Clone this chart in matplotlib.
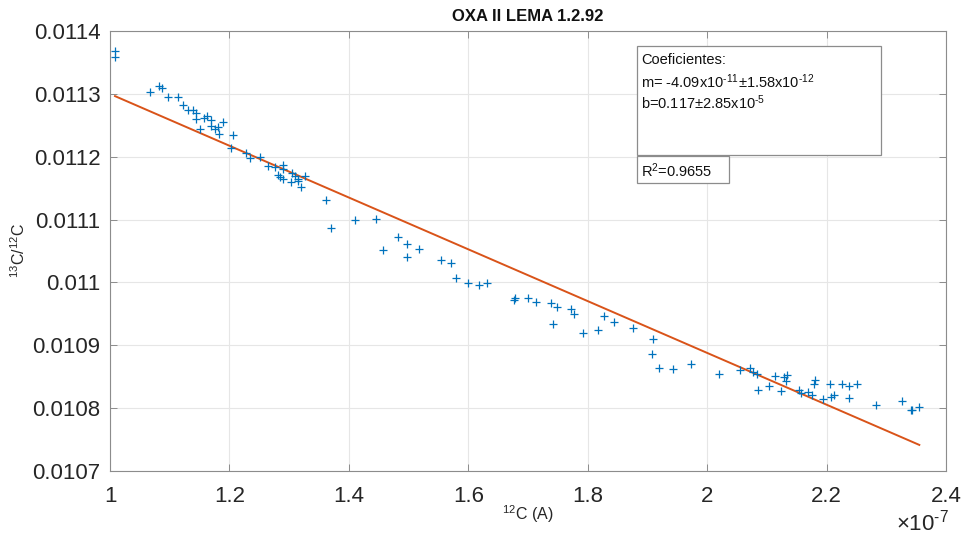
import matplotlib
matplotlib.use("Agg")
import matplotlib.pyplot as plt
from matplotlib.ticker import FixedLocator, FuncFormatter
from matplotlib.patches import Rectangle

plt.rcParams['font.family'] = ['Liberation Sans', 'DejaVu Sans']
plt.rcParams['mathtext.fontset'] = 'custom'
plt.rcParams['mathtext.rm'] = 'Liberation Sans'
plt.rcParams['mathtext.it'] = 'Liberation Sans:italic'
plt.rcParams['mathtext.bf'] = 'Liberation Sans:bold'

# ---- data ----
x_scale = 1e-7  # x values below are in units of 1e-7 A
c12_current = [
    1.0084, 1.0084, 1.0670, 1.0826, 1.0866, 1.0976, 1.1134, 1.1228, 1.1311, 1.1395,
    1.1440, 1.1440, 1.1574, 1.1629, 1.1691, 1.1691, 1.1758, 1.1814, 1.1825, 1.1887,
    1.1507, 1.2065, 1.2026, 1.2272, 1.2345, 1.2512, 1.2651, 1.2763, 1.2902, 1.2892,
    1.2808, 1.2847, 1.2902, 1.3043, 1.3098, 1.3153, 1.3153, 1.3026, 1.3199, 1.3266,
    1.3617, 1.3701, 1.4103, 1.4455, 1.4567, 1.4818, 1.4979, 1.4979, 1.5180, 1.5543,
    1.5706, 1.5794, 1.6000, 1.6179, 1.6308, 1.6771, 1.6782, 1.7005, 1.7134, 1.7380,
    1.7481, 1.7424, 1.7720, 1.7776, 1.7916, 1.8167, 1.8278, 1.8440, 1.8753, 1.9098,
    1.9070, 1.9194, 1.9432, 1.9730, 2.0204, 2.0550, 2.0718, 2.0773, 2.0840, 2.0847,
    2.1041, 2.1136, 2.1231, 2.1291, 2.1331, 2.1320, 2.1543, 2.1571, 2.1693, 2.1760,
    2.1806, 2.1794, 2.1934, 2.2057, 2.2068, 2.2129, 2.2263, 2.2375, 2.2380, 2.2514,
    2.2822, 2.3263, 2.3414, 2.3435, 2.3553,
]
ratio_13_12 = [
    0.0113677, 0.0113581, 0.0113033, 0.0113128, 0.0113087, 0.0112943, 0.0112943, 0.0112820, 0.0112746, 0.0112746,
    0.0112688, 0.0112597, 0.0112613, 0.0112640, 0.0112586, 0.0112490, 0.0112438, 0.0112465, 0.0112358, 0.0112545,
    0.0112438, 0.0112347, 0.0112146, 0.0112066, 0.0111986, 0.0111996, 0.0111853, 0.0111837, 0.0111864, 0.0111800,
    0.0111709, 0.0111677, 0.0111640, 0.0111736, 0.0111693, 0.0111652, 0.0111613, 0.0111597, 0.0111524, 0.0111693,
    0.0111306, 0.0110870, 0.0110991, 0.0111003, 0.0110508, 0.0110727, 0.0110615, 0.0110408, 0.0110535, 0.0110349,
    0.0110312, 0.0110067, 0.0109993, 0.0109955, 0.0109993, 0.0109716, 0.0109754, 0.0109754, 0.0109684, 0.0109674,
    0.0109610, 0.0109344, 0.0109583, 0.0109504, 0.0109196, 0.0109237, 0.0109461, 0.0109371, 0.0109269, 0.0109105,
    0.0108855, 0.0108642, 0.0108627, 0.0108706, 0.0108547, 0.0108599, 0.0108638, 0.0108568, 0.0108542, 0.0108292,
    0.0108355, 0.0108504, 0.0108276, 0.0108488, 0.0108520, 0.0108435, 0.0108292, 0.0108239, 0.0108249, 0.0108212,
    0.0108440, 0.0108387, 0.0108153, 0.0108383, 0.0108185, 0.0108212, 0.0108387, 0.0108355, 0.0108159, 0.0108383,
    0.0108048, 0.0108116, 0.0107973, 0.0107968, 0.0108016,
]
fit_x = [1.0084, 2.3553]
fit_y = [0.0112964, 0.0107415]

x_ticks = [1.0, 1.2, 1.4, 1.6, 1.8, 2.0, 2.2, 2.4]
y_ticks = [0.0107, 0.0108, 0.0109, 0.0110, 0.0111, 0.0112, 0.0113, 0.0114]
y_tick_labels = ['0.0107', '0.0108', '0.0109', '0.011', '0.0111', '0.0112', '0.0113', '0.0114']

title = 'OXA II LEMA 1.2.92'
coef_lines = [
    'Coeficientes:',
    r'm= -4.09x10$^{\text{-}11}$$\pm$1.58x10$^{\text{-}12}$',
    r'b=0.117$\pm$2.85x10$^{\text{-}5}$',
]
r2_text = r'R$^{2}$=0.9655'

# ---- figure ----
fig = plt.figure(figsize=(9.61, 5.35), dpi=100)
ax = fig.add_axes([110 / 961, 1 - 471 / 535, 836 / 961, 440 / 535])

blue = (0.0, 0.447, 0.741)
orange = (0.85, 0.325, 0.098)

xs = [v * x_scale for v in c12_current]
ax.plot(xs, ratio_13_12, linestyle='none', marker='+', color=blue,
        markersize=6, markeredgewidth=0.9, zorder=3)
ax.plot([v * x_scale for v in fit_x], fit_y, color=orange, linewidth=1.4, zorder=2)

ax.set_xlim(x_ticks[0] * x_scale, x_ticks[-1] * x_scale)
ax.set_ylim(y_ticks[0], y_ticks[-1])
ax.xaxis.set_major_locator(FixedLocator([v * x_scale for v in x_ticks]))
ax.xaxis.set_major_formatter(FuncFormatter(lambda v, p: f'{v / x_scale:g}'))
ax.yaxis.set_major_locator(FixedLocator(y_ticks))
ax.set_yticklabels(y_tick_labels)

ax.grid(True, color='#e6e6e6', linewidth=0.8)
ax.set_axisbelow(True)
for s in ax.spines.values():
    s.set_color('#8c8c8c')
    s.set_linewidth(0.8)
ax.tick_params(direction='in', length=5, width=0.7, color='#8c8c8c',
               top=True, right=True, labelsize=16, labelcolor='#262626')
ax.tick_params(axis='x', pad=11)
ax.tick_params(axis='y', pad=7)

ax.set_title(title, fontsize=12, fontweight='bold', pad=7, color='#111111')
ax.set_xlabel(r'$^{12}$C (A)', fontsize=11.5, color='#262626')
ax.xaxis.set_label_coords(0.5, (471 - 503) / 440)
ax.set_ylabel(r'$^{13}$C/$^{12}$C', fontsize=11.5, color='#262626')
ax.yaxis.set_label_coords((28 - 110) / 836, 0.5)
fig.text(949 / 961, 1 - 523 / 535, r'$\times$10$^{\text{-}7}$', fontsize=16,
         color='#262626', ha='right', va='center')


def px_to_fig(x, y):
    return x / 961, 1 - y / 535


x0, y0 = px_to_fig(637, 155)
fig.patches.append(Rectangle((x0, y0), (881 - 637) / 961, (155 - 46) / 535,
                             transform=fig.transFigure, facecolor='white',
                             edgecolor='#8c8c8c', linewidth=0.9, zorder=5))
x1, y1 = px_to_fig(637, 183)
fig.patches.append(Rectangle((x1, y1), (729 - 637) / 961, (183 - 156) / 535,
                             transform=fig.transFigure, facecolor='white',
                             edgecolor='#8c8c8c', linewidth=0.9, zorder=5))
for i, line in enumerate(coef_lines):
    tx, ty = px_to_fig(641, 60 + 21.5 * i)
    fig.text(tx, ty, line, fontsize=10.5, color='#111111', va='center', ha='left', zorder=6)
tx, ty = px_to_fig(641, 171)
fig.text(tx, ty, r2_text, fontsize=10.5, color='#111111', va='center', ha='left', zorder=6)

fig.savefig('out.png', dpi=100)
